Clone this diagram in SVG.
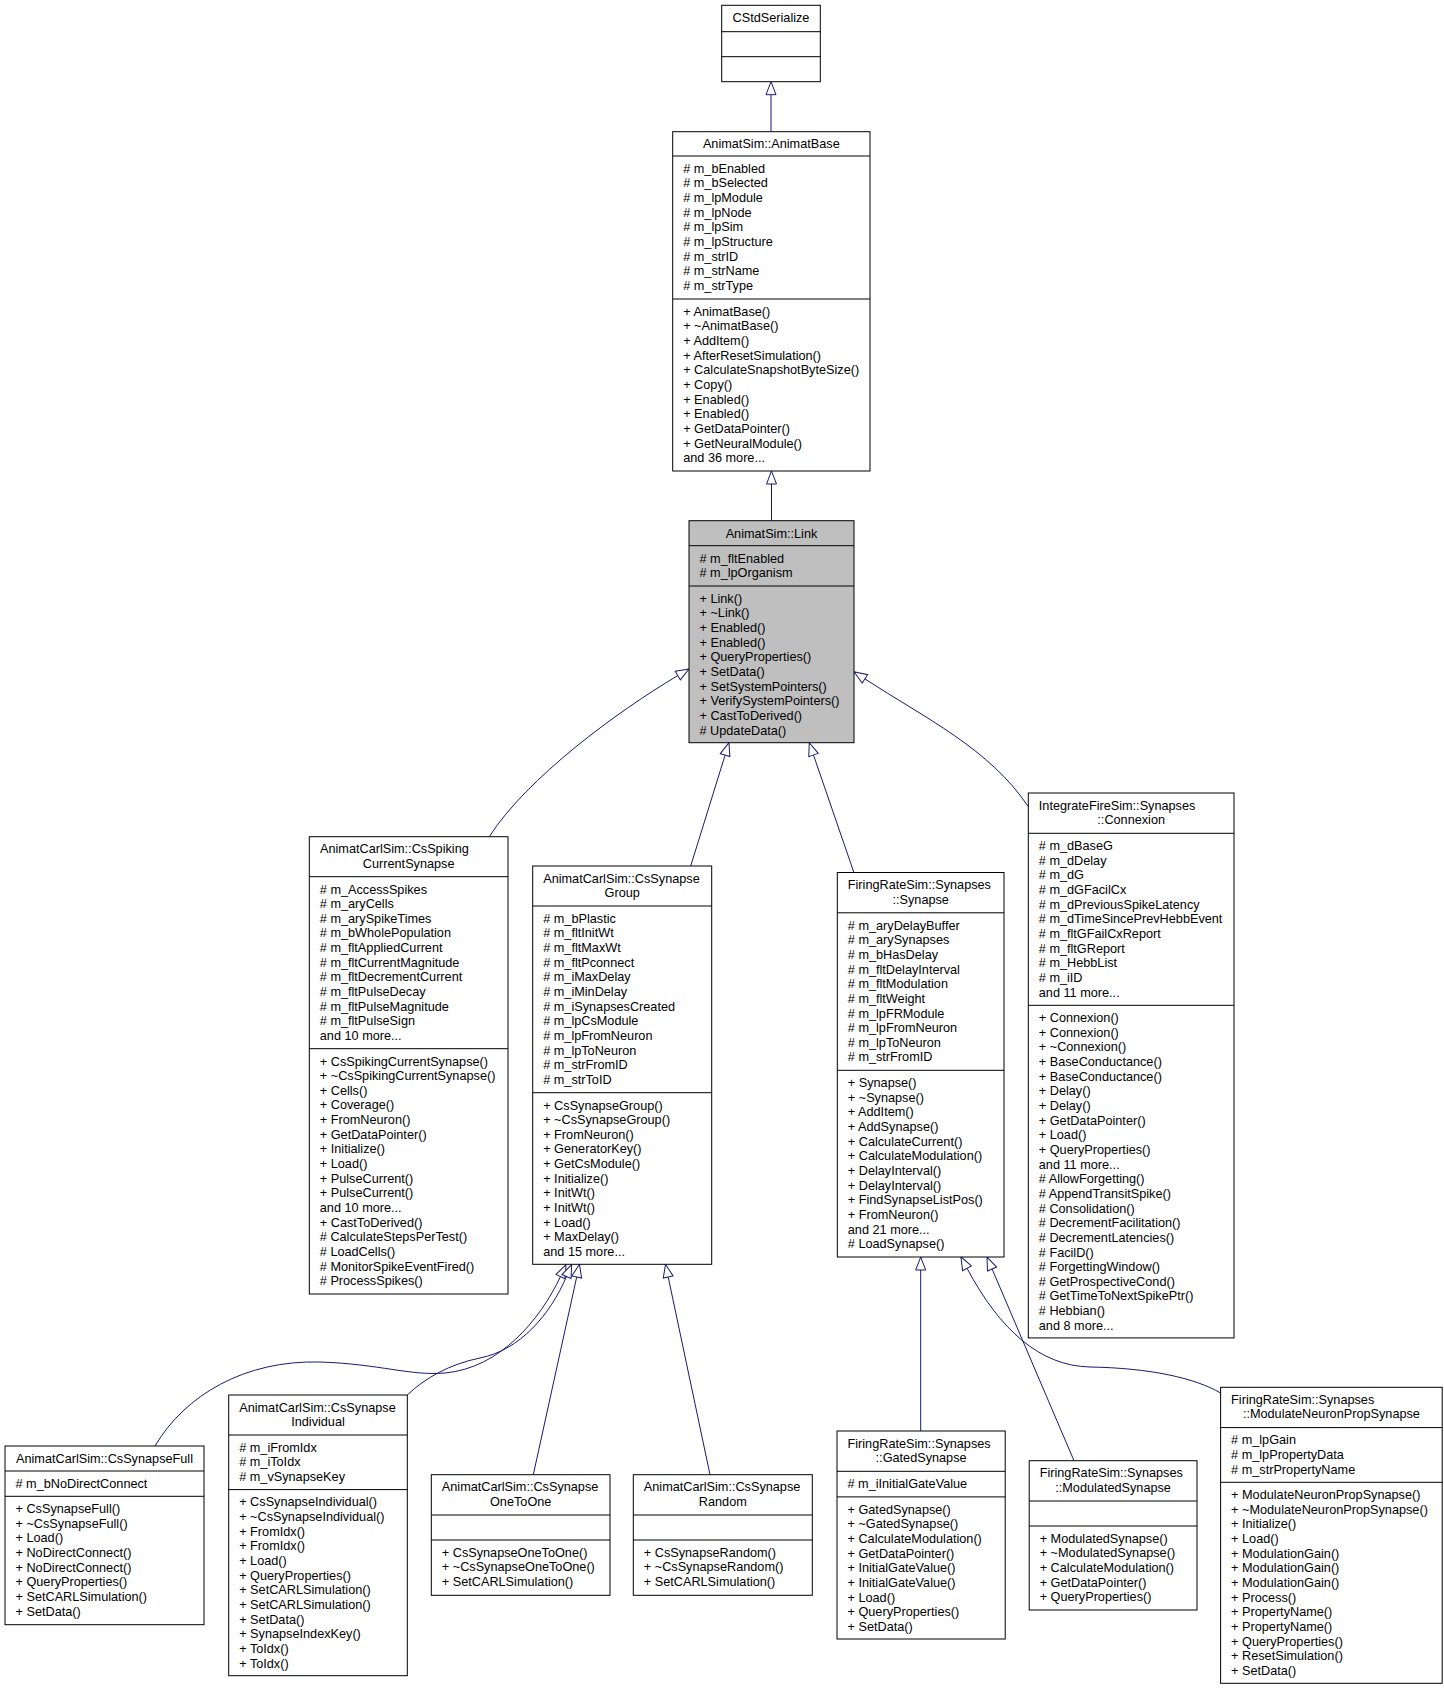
<svg xmlns="http://www.w3.org/2000/svg" width="1444" height="1689" viewBox="0 0 1444 1689">
<defs>
<style>
.box{fill:#fff;stroke:#000;stroke-width:1}
.cur{fill:#bfbfbf}
.sep{stroke:#000;stroke-width:1}
text{font-family:"Liberation Sans",Arial,sans-serif;font-size:12.7px;fill:#000}
.c{text-anchor:middle}
.e{fill:none;stroke:#191970;stroke-width:1;marker-end:url(#ah)}
</style>
<marker id="ah" markerUnits="userSpaceOnUse" orient="auto" refX="0" refY="0" markerWidth="14" markerHeight="12" overflow="visible">
<path d="M0,-5 L13,0 L0,5 Z" fill="#fff" stroke="#191970" stroke-width="1"/>
</marker>
</defs>
<rect width="1444" height="1689" fill="#fff"/>

<g id="edges">
<path class="e" d="M771,131.7 L771,94.7"/>
<path class="e" d="M771.5,520.7 L771.5,484"/>
<path class="e" d="M489.3,836.7 C526.8,777.9 617.6,711.3 677.8,675.6"/>
<path class="e" d="M690.7,866 L725.1,755.1"/>
<path class="e" d="M853.9,872.5 L813.5,755"/>
<path class="e" d="M1028.3,806.7 C989.8,748.6 923.7,717.4 864.9,678.85"/>
<path class="e" d="M155,1446 C185,1395 245,1360 320,1362 C380,1364 410,1376 445,1373 C500,1368 540,1320 560.5,1276.5"/>
<path class="e" d="M407.3,1395 C425,1378 450,1364 480,1358 C520,1350 550,1315 566.5,1276.5"/>
<path class="e" d="M533.3,1474.7 L576.7,1277"/>
<path class="e" d="M710,1474.7 L668.2,1277"/>
<path class="e" d="M920.7,1431 L920.7,1270"/>
<path class="e" d="M1074,1460.7 L992.1,1269"/>
<path class="e" d="M1220.6,1393 C1195,1378 1150,1368 1090,1367 C1040,1366 1000,1330 967,1268.3"/>
</g>

<g id="CStdSerialize">
<rect class="box" x="721.7" y="5.3" width="98.6" height="76.4"/>
<line class="sep" x1="721.7" y1="31.7" x2="820.3" y2="31.7"/>
<line class="sep" x1="721.7" y1="56.7" x2="820.3" y2="56.7"/>
<text class="c" x="771" y="21.8">CStdSerialize</text>
</g>

<g id="AnimatBase">
<rect class="box" x="672.7" y="131.7" width="197.3" height="339.3"/>
<line class="sep" x1="672.7" y1="156" x2="870" y2="156"/>
<line class="sep" x1="672.7" y1="299" x2="870" y2="299"/>
<text class="c" x="771.3" y="148">AnimatSim::AnimatBase</text>
<text><tspan x="683.2" y="172.8"># m_bEnabled</tspan><tspan x="683.2" dy="14.65"># m_bSelected</tspan><tspan x="683.2" dy="14.65"># m_lpModule</tspan><tspan x="683.2" dy="14.65"># m_lpNode</tspan><tspan x="683.2" dy="14.65"># m_lpSim</tspan><tspan x="683.2" dy="14.65"># m_lpStructure</tspan><tspan x="683.2" dy="14.65"># m_strID</tspan><tspan x="683.2" dy="14.65"># m_strName</tspan><tspan x="683.2" dy="14.65"># m_strType</tspan></text>
<text><tspan x="683.2" y="315.8">+ AnimatBase()</tspan><tspan x="683.2" dy="14.65">+ ~AnimatBase()</tspan><tspan x="683.2" dy="14.65">+ AddItem()</tspan><tspan x="683.2" dy="14.65">+ AfterResetSimulation()</tspan><tspan x="683.2" dy="14.65">+ CalculateSnapshotByteSize()</tspan><tspan x="683.2" dy="14.65">+ Copy()</tspan><tspan x="683.2" dy="14.65">+ Enabled()</tspan><tspan x="683.2" dy="14.65">+ Enabled()</tspan><tspan x="683.2" dy="14.65">+ GetDataPointer()</tspan><tspan x="683.2" dy="14.65">+ GetNeuralModule()</tspan><tspan x="683.2" dy="14.65">and 36 more...</tspan></text>
</g>

<g id="Link">
<rect class="box cur" x="689" y="520.7" width="165" height="222"/>
<line class="sep" x1="689" y1="545.7" x2="854" y2="545.7"/>
<line class="sep" x1="689" y1="586" x2="854" y2="586"/>
<text class="c" x="771.5" y="537.5">AnimatSim::Link</text>
<text><tspan x="699.5" y="562.5"># m_fltEnabled</tspan><tspan x="699.5" dy="14.65"># m_lpOrganism</tspan></text>
<text><tspan x="699.5" y="602.8">+ Link()</tspan><tspan x="699.5" dy="14.65">+ ~Link()</tspan><tspan x="699.5" dy="14.65">+ Enabled()</tspan><tspan x="699.5" dy="14.65">+ Enabled()</tspan><tspan x="699.5" dy="14.65">+ QueryProperties()</tspan><tspan x="699.5" dy="14.65">+ SetData()</tspan><tspan x="699.5" dy="14.65">+ SetSystemPointers()</tspan><tspan x="699.5" dy="14.65">+ VerifySystemPointers()</tspan><tspan x="699.5" dy="14.65">+ CastToDerived()</tspan><tspan x="699.5" dy="14.65"># UpdateData()</tspan></text>
</g>

<g id="CsSpikingCurrentSynapse">
<rect class="box" x="309.3" y="836.7" width="198.7" height="457.3"/>
<line class="sep" x1="309.3" y1="876.7" x2="508" y2="876.7"/>
<line class="sep" x1="309.3" y1="1048.7" x2="508" y2="1048.7"/>
<text x="320" y="853.2">AnimatCarlSim::CsSpiking</text>
<text class="c" x="408.7" y="867.85">CurrentSynapse</text>
<text><tspan x="319.8" y="893.5"># m_AccessSpikes</tspan><tspan x="319.8" dy="14.65"># m_aryCells</tspan><tspan x="319.8" dy="14.65"># m_arySpikeTimes</tspan><tspan x="319.8" dy="14.65"># m_bWholePopulation</tspan><tspan x="319.8" dy="14.65"># m_fltAppliedCurrent</tspan><tspan x="319.8" dy="14.65"># m_fltCurrentMagnitude</tspan><tspan x="319.8" dy="14.65"># m_fltDecrementCurrent</tspan><tspan x="319.8" dy="14.65"># m_fltPulseDecay</tspan><tspan x="319.8" dy="14.65"># m_fltPulseMagnitude</tspan><tspan x="319.8" dy="14.65"># m_fltPulseSign</tspan><tspan x="319.8" dy="14.65">and 10 more...</tspan></text>
<text><tspan x="319.8" y="1065.5">+ CsSpikingCurrentSynapse()</tspan><tspan x="319.8" dy="14.65">+ ~CsSpikingCurrentSynapse()</tspan><tspan x="319.8" dy="14.65">+ Cells()</tspan><tspan x="319.8" dy="14.65">+ Coverage()</tspan><tspan x="319.8" dy="14.65">+ FromNeuron()</tspan><tspan x="319.8" dy="14.65">+ GetDataPointer()</tspan><tspan x="319.8" dy="14.65">+ Initialize()</tspan><tspan x="319.8" dy="14.65">+ Load()</tspan><tspan x="319.8" dy="14.65">+ PulseCurrent()</tspan><tspan x="319.8" dy="14.65">+ PulseCurrent()</tspan><tspan x="319.8" dy="14.65">and 10 more...</tspan><tspan x="319.8" dy="14.65">+ CastToDerived()</tspan><tspan x="319.8" dy="14.65"># CalculateStepsPerTest()</tspan><tspan x="319.8" dy="14.65"># LoadCells()</tspan><tspan x="319.8" dy="14.65"># MonitorSpikeEventFired()</tspan><tspan x="319.8" dy="14.65"># ProcessSpikes()</tspan></text>
</g>

<g id="CsSynapseGroup">
<rect class="box" x="532.7" y="866" width="179" height="398.3"/>
<line class="sep" x1="532.7" y1="906" x2="711.7" y2="906"/>
<line class="sep" x1="532.7" y1="1092.7" x2="711.7" y2="1092.7"/>
<text x="543.2" y="882.5">AnimatCarlSim::CsSynapse</text>
<text class="c" x="622.2" y="897.15">Group</text>
<text><tspan x="543.2" y="922.8"># m_bPlastic</tspan><tspan x="543.2" dy="14.65"># m_fltInitWt</tspan><tspan x="543.2" dy="14.65"># m_fltMaxWt</tspan><tspan x="543.2" dy="14.65"># m_fltPconnect</tspan><tspan x="543.2" dy="14.65"># m_iMaxDelay</tspan><tspan x="543.2" dy="14.65"># m_iMinDelay</tspan><tspan x="543.2" dy="14.65"># m_iSynapsesCreated</tspan><tspan x="543.2" dy="14.65"># m_lpCsModule</tspan><tspan x="543.2" dy="14.65"># m_lpFromNeuron</tspan><tspan x="543.2" dy="14.65"># m_lpToNeuron</tspan><tspan x="543.2" dy="14.65"># m_strFromID</tspan><tspan x="543.2" dy="14.65"># m_strToID</tspan></text>
<text><tspan x="543.2" y="1109.5">+ CsSynapseGroup()</tspan><tspan x="543.2" dy="14.65">+ ~CsSynapseGroup()</tspan><tspan x="543.2" dy="14.65">+ FromNeuron()</tspan><tspan x="543.2" dy="14.65">+ GeneratorKey()</tspan><tspan x="543.2" dy="14.65">+ GetCsModule()</tspan><tspan x="543.2" dy="14.65">+ Initialize()</tspan><tspan x="543.2" dy="14.65">+ InitWt()</tspan><tspan x="543.2" dy="14.65">+ InitWt()</tspan><tspan x="543.2" dy="14.65">+ Load()</tspan><tspan x="543.2" dy="14.65">+ MaxDelay()</tspan><tspan x="543.2" dy="14.65">and 15 more...</tspan></text>
</g>

<g id="Synapse">
<rect class="box" x="837.3" y="872.5" width="166.7" height="384.5"/>
<line class="sep" x1="837.3" y1="912.8" x2="1004" y2="912.8"/>
<line class="sep" x1="837.3" y1="1070.3" x2="1004" y2="1070.3"/>
<text x="847.8" y="889">FiringRateSim::Synapses</text>
<text class="c" x="920.7" y="903.65">::Synapse</text>
<text><tspan x="847.8" y="929.6"># m_aryDelayBuffer</tspan><tspan x="847.8" dy="14.65"># m_arySynapses</tspan><tspan x="847.8" dy="14.65"># m_bHasDelay</tspan><tspan x="847.8" dy="14.65"># m_fltDelayInterval</tspan><tspan x="847.8" dy="14.65"># m_fltModulation</tspan><tspan x="847.8" dy="14.65"># m_fltWeight</tspan><tspan x="847.8" dy="14.65"># m_lpFRModule</tspan><tspan x="847.8" dy="14.65"># m_lpFromNeuron</tspan><tspan x="847.8" dy="14.65"># m_lpToNeuron</tspan><tspan x="847.8" dy="14.65"># m_strFromID</tspan></text>
<text><tspan x="847.8" y="1087.1">+ Synapse()</tspan><tspan x="847.8" dy="14.65">+ ~Synapse()</tspan><tspan x="847.8" dy="14.65">+ AddItem()</tspan><tspan x="847.8" dy="14.65">+ AddSynapse()</tspan><tspan x="847.8" dy="14.65">+ CalculateCurrent()</tspan><tspan x="847.8" dy="14.65">+ CalculateModulation()</tspan><tspan x="847.8" dy="14.65">+ DelayInterval()</tspan><tspan x="847.8" dy="14.65">+ DelayInterval()</tspan><tspan x="847.8" dy="14.65">+ FindSynapseListPos()</tspan><tspan x="847.8" dy="14.65">+ FromNeuron()</tspan><tspan x="847.8" dy="14.65">and 21 more...</tspan><tspan x="847.8" dy="14.65"># LoadSynapse()</tspan></text>
</g>

<g id="Connexion">
<rect class="box" x="1028.3" y="793" width="205.7" height="544.9"/>
<line class="sep" x1="1028.3" y1="833.3" x2="1234" y2="833.3"/>
<line class="sep" x1="1028.3" y1="1005.3" x2="1234" y2="1005.3"/>
<text x="1038.8" y="809.5">IntegrateFireSim::Synapses</text>
<text class="c" x="1131.2" y="824.15">::Connexion</text>
<text><tspan x="1038.8" y="850.1"># m_dBaseG</tspan><tspan x="1038.8" dy="14.65"># m_dDelay</tspan><tspan x="1038.8" dy="14.65"># m_dG</tspan><tspan x="1038.8" dy="14.65"># m_dGFacilCx</tspan><tspan x="1038.8" dy="14.65"># m_dPreviousSpikeLatency</tspan><tspan x="1038.8" dy="14.65"># m_dTimeSincePrevHebbEvent</tspan><tspan x="1038.8" dy="14.65"># m_fltGFailCxReport</tspan><tspan x="1038.8" dy="14.65"># m_fltGReport</tspan><tspan x="1038.8" dy="14.65"># m_HebbList</tspan><tspan x="1038.8" dy="14.65"># m_iID</tspan><tspan x="1038.8" dy="14.65">and 11 more...</tspan></text>
<text><tspan x="1038.8" y="1022.1">+ Connexion()</tspan><tspan x="1038.8" dy="14.65">+ Connexion()</tspan><tspan x="1038.8" dy="14.65">+ ~Connexion()</tspan><tspan x="1038.8" dy="14.65">+ BaseConductance()</tspan><tspan x="1038.8" dy="14.65">+ BaseConductance()</tspan><tspan x="1038.8" dy="14.65">+ Delay()</tspan><tspan x="1038.8" dy="14.65">+ Delay()</tspan><tspan x="1038.8" dy="14.65">+ GetDataPointer()</tspan><tspan x="1038.8" dy="14.65">+ Load()</tspan><tspan x="1038.8" dy="14.65">+ QueryProperties()</tspan><tspan x="1038.8" dy="14.65">and 11 more...</tspan><tspan x="1038.8" dy="14.65"># AllowForgetting()</tspan><tspan x="1038.8" dy="14.65"># AppendTransitSpike()</tspan><tspan x="1038.8" dy="14.65"># Consolidation()</tspan><tspan x="1038.8" dy="14.65"># DecrementFacilitation()</tspan><tspan x="1038.8" dy="14.65"># DecrementLatencies()</tspan><tspan x="1038.8" dy="14.65"># FacilD()</tspan><tspan x="1038.8" dy="14.65"># ForgettingWindow()</tspan><tspan x="1038.8" dy="14.65"># GetProspectiveCond()</tspan><tspan x="1038.8" dy="14.65"># GetTimeToNextSpikePtr()</tspan><tspan x="1038.8" dy="14.65"># Hebbian()</tspan><tspan x="1038.8" dy="14.65">and 8 more...</tspan></text>
</g>

<g id="CsSynapseFull">
<rect class="box" x="5" y="1446" width="199" height="178.7"/>
<line class="sep" x1="5" y1="1471" x2="204" y2="1471"/>
<line class="sep" x1="5" y1="1496.3" x2="204" y2="1496.3"/>
<text class="c" x="104.5" y="1462.5">AnimatCarlSim::CsSynapseFull</text>
<text><tspan x="15.5" y="1487.8"># m_bNoDirectConnect</tspan></text>
<text><tspan x="15.5" y="1513.1">+ CsSynapseFull()</tspan><tspan x="15.5" dy="14.65">+ ~CsSynapseFull()</tspan><tspan x="15.5" dy="14.65">+ Load()</tspan><tspan x="15.5" dy="14.65">+ NoDirectConnect()</tspan><tspan x="15.5" dy="14.65">+ NoDirectConnect()</tspan><tspan x="15.5" dy="14.65">+ QueryProperties()</tspan><tspan x="15.5" dy="14.65">+ SetCARLSimulation()</tspan><tspan x="15.5" dy="14.65">+ SetData()</tspan></text>
</g>

<g id="CsSynapseIndividual">
<rect class="box" x="228.7" y="1395" width="178.6" height="280.7"/>
<line class="sep" x1="228.7" y1="1435" x2="407.3" y2="1435"/>
<line class="sep" x1="228.7" y1="1489.6" x2="407.3" y2="1489.6"/>
<text x="239.2" y="1411.5">AnimatCarlSim::CsSynapse</text>
<text class="c" x="318" y="1426.15">Individual</text>
<text><tspan x="239.2" y="1451.8"># m_iFromIdx</tspan><tspan x="239.2" dy="14.65"># m_iToIdx</tspan><tspan x="239.2" dy="14.65"># m_vSynapseKey</tspan></text>
<text><tspan x="239.2" y="1506.4">+ CsSynapseIndividual()</tspan><tspan x="239.2" dy="14.65">+ ~CsSynapseIndividual()</tspan><tspan x="239.2" dy="14.65">+ FromIdx()</tspan><tspan x="239.2" dy="14.65">+ FromIdx()</tspan><tspan x="239.2" dy="14.65">+ Load()</tspan><tspan x="239.2" dy="14.65">+ QueryProperties()</tspan><tspan x="239.2" dy="14.65">+ SetCARLSimulation()</tspan><tspan x="239.2" dy="14.65">+ SetCARLSimulation()</tspan><tspan x="239.2" dy="14.65">+ SetData()</tspan><tspan x="239.2" dy="14.65">+ SynapseIndexKey()</tspan><tspan x="239.2" dy="14.65">+ ToIdx()</tspan><tspan x="239.2" dy="14.65">+ ToIdx()</tspan></text>
</g>

<g id="CsSynapseOneToOne">
<rect class="box" x="431.3" y="1474.7" width="178.7" height="120.6"/>
<line class="sep" x1="431.3" y1="1515" x2="610" y2="1515"/>
<line class="sep" x1="431.3" y1="1540" x2="610" y2="1540"/>
<text x="441.8" y="1491.2">AnimatCarlSim::CsSynapse</text>
<text class="c" x="520.7" y="1505.85">OneToOne</text>
<text><tspan x="441.8" y="1556.8">+ CsSynapseOneToOne()</tspan><tspan x="441.8" dy="14.65">+ ~CsSynapseOneToOne()</tspan><tspan x="441.8" dy="14.65">+ SetCARLSimulation()</tspan></text>
</g>

<g id="CsSynapseRandom">
<rect class="box" x="633.3" y="1474.7" width="179" height="120.6"/>
<line class="sep" x1="633.3" y1="1515" x2="812.3" y2="1515"/>
<line class="sep" x1="633.3" y1="1540" x2="812.3" y2="1540"/>
<text x="643.8" y="1491.2">AnimatCarlSim::CsSynapse</text>
<text class="c" x="722.8" y="1505.85">Random</text>
<text><tspan x="643.8" y="1556.8">+ CsSynapseRandom()</tspan><tspan x="643.8" dy="14.65">+ ~CsSynapseRandom()</tspan><tspan x="643.8" dy="14.65">+ SetCARLSimulation()</tspan></text>
</g>

<g id="GatedSynapse">
<rect class="box" x="837" y="1431" width="168.2" height="208"/>
<line class="sep" x1="837" y1="1471.3" x2="1005.2" y2="1471.3"/>
<line class="sep" x1="837" y1="1496.9" x2="1005.2" y2="1496.9"/>
<text x="847.5" y="1447.5">FiringRateSim::Synapses</text>
<text class="c" x="921.1" y="1462.15">::GatedSynapse</text>
<text><tspan x="847.5" y="1488.1"># m_iInitialGateValue</tspan></text>
<text><tspan x="847.5" y="1513.7">+ GatedSynapse()</tspan><tspan x="847.5" dy="14.65">+ ~GatedSynapse()</tspan><tspan x="847.5" dy="14.65">+ CalculateModulation()</tspan><tspan x="847.5" dy="14.65">+ GetDataPointer()</tspan><tspan x="847.5" dy="14.65">+ InitialGateValue()</tspan><tspan x="847.5" dy="14.65">+ InitialGateValue()</tspan><tspan x="847.5" dy="14.65">+ Load()</tspan><tspan x="847.5" dy="14.65">+ QueryProperties()</tspan><tspan x="847.5" dy="14.65">+ SetData()</tspan></text>
</g>

<g id="ModulatedSynapse">
<rect class="box" x="1029.2" y="1460.7" width="167.8" height="149.3"/>
<line class="sep" x1="1029.2" y1="1501" x2="1197" y2="1501"/>
<line class="sep" x1="1029.2" y1="1526" x2="1197" y2="1526"/>
<text x="1039.7" y="1477.2">FiringRateSim::Synapses</text>
<text class="c" x="1113.1" y="1491.85">::ModulatedSynapse</text>
<text><tspan x="1039.7" y="1542.8">+ ModulatedSynapse()</tspan><tspan x="1039.7" dy="14.65">+ ~ModulatedSynapse()</tspan><tspan x="1039.7" dy="14.65">+ CalculateModulation()</tspan><tspan x="1039.7" dy="14.65">+ GetDataPointer()</tspan><tspan x="1039.7" dy="14.65">+ QueryProperties()</tspan></text>
</g>

<g id="ModulateNeuronPropSynapse">
<rect class="box" x="1220.6" y="1387.3" width="221.6" height="296"/>
<line class="sep" x1="1220.6" y1="1427.6" x2="1442.2" y2="1427.6"/>
<line class="sep" x1="1220.6" y1="1482.3" x2="1442.2" y2="1482.3"/>
<text x="1231.1" y="1403.8">FiringRateSim::Synapses</text>
<text class="c" x="1331.4" y="1418.45">::ModulateNeuronPropSynapse</text>
<text><tspan x="1231.1" y="1444.4"># m_lpGain</tspan><tspan x="1231.1" dy="14.65"># m_lpPropertyData</tspan><tspan x="1231.1" dy="14.65"># m_strPropertyName</tspan></text>
<text><tspan x="1231.1" y="1499.1">+ ModulateNeuronPropSynapse()</tspan><tspan x="1231.1" dy="14.65">+ ~ModulateNeuronPropSynapse()</tspan><tspan x="1231.1" dy="14.65">+ Initialize()</tspan><tspan x="1231.1" dy="14.65">+ Load()</tspan><tspan x="1231.1" dy="14.65">+ ModulationGain()</tspan><tspan x="1231.1" dy="14.65">+ ModulationGain()</tspan><tspan x="1231.1" dy="14.65">+ ModulationGain()</tspan><tspan x="1231.1" dy="14.65">+ Process()</tspan><tspan x="1231.1" dy="14.65">+ PropertyName()</tspan><tspan x="1231.1" dy="14.65">+ PropertyName()</tspan><tspan x="1231.1" dy="14.65">+ QueryProperties()</tspan><tspan x="1231.1" dy="14.65">+ ResetSimulation()</tspan><tspan x="1231.1" dy="14.65">+ SetData()</tspan></text>
</g>
</svg>
